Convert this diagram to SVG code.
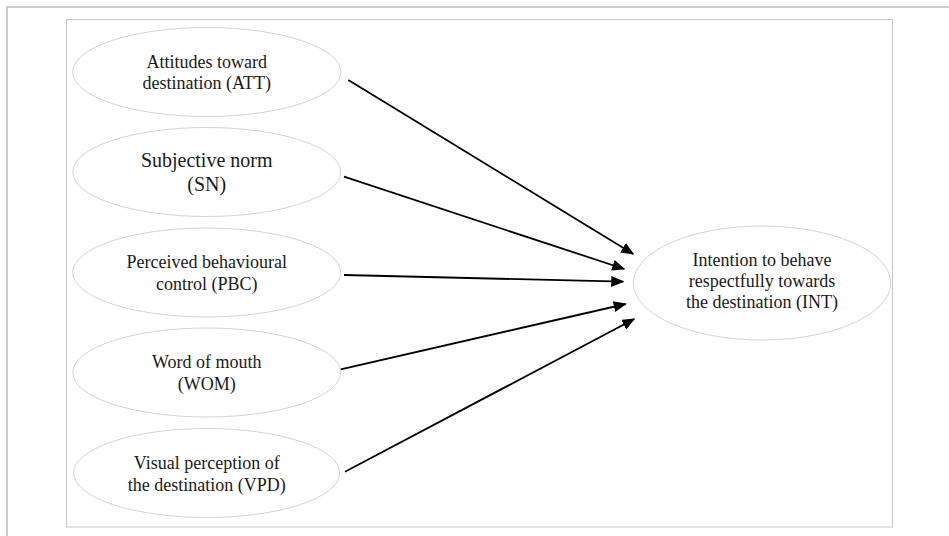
<svg xmlns="http://www.w3.org/2000/svg" width="949" height="536" viewBox="0 0 949 536">
<style>
.frame{fill:none;stroke:#b4b4b4;stroke-width:1.3}
.inner{fill:#fff;stroke:#c8c8c8;stroke-width:1}
.node ellipse{fill:#fff;stroke:#d4d4d4;stroke-width:1}
.node text{font-size:18px;fill:#1a1a1a;text-anchor:middle}
.conn line{stroke:#000;stroke-width:1.8;marker-end:url(#ah)}
</style>
<defs>
<marker id="ah" markerUnits="userSpaceOnUse" viewBox="0 0 13 11" refX="12" refY="5.5" markerWidth="13" markerHeight="11" orient="auto">
<path d="M0,0 L13,5.5 L0,11 Z" fill="#000"/>
</marker>
</defs>
<rect width="949" height="536" fill="#fff"/>
<rect class="frame" x="7" y="7" width="960" height="560"/>
<rect class="inner" x="66.5" y="19.5" width="826" height="507.5"/>
<g font-family="Liberation Serif, Times New Roman, DejaVu Serif, serif">
<g id="ATT" class="node">
<ellipse cx="206.7" cy="72" rx="134" ry="44.5"/>
<text x="206.7" y="68">Attitudes toward</text>
<text x="206.7" y="89">destination (ATT)</text>
</g>
<g id="SN" class="node">
<ellipse cx="206.7" cy="172" rx="134" ry="44.5"/>
<text x="206.7" y="167" style="font-size:20px">Subjective norm</text>
<text x="206.7" y="191" style="font-size:20px">(SN)</text>
</g>
<g id="PBC" class="node">
<ellipse cx="206.7" cy="272.5" rx="134" ry="44.5"/>
<text x="206.7" y="267.5">Perceived behavioural</text>
<text x="206.7" y="289.5">control (PBC)</text>
</g>
<g id="WOM" class="node">
<ellipse cx="206.7" cy="372.5" rx="134" ry="44.5"/>
<text x="206.7" y="367.5">Word of mouth</text>
<text x="206.7" y="389.5">(WOM)</text>
</g>
<g id="VPD" class="node">
<ellipse cx="206.7" cy="473" rx="133" ry="44.5"/>
<text x="206.7" y="469">Visual perception of</text>
<text x="206.7" y="490.5">the destination (VPD)</text>
</g>
<g id="INT" class="node">
<ellipse cx="762" cy="283" rx="128.7" ry="57"/>
<text x="762" y="265.5">Intention to behave</text>
<text x="762" y="286.5">respectfully towards</text>
<text x="762" y="307.5">the destination (INT)</text>
</g>
</g>
<g id="connectors" class="conn">
<line x1="348.3" y1="80" x2="633.3" y2="254"/>
<line x1="344" y1="176.7" x2="624.3" y2="269"/>
<line x1="344" y1="275" x2="623.3" y2="281.7"/>
<line x1="340.7" y1="369.3" x2="625.7" y2="304"/>
<line x1="345" y1="471.7" x2="634.3" y2="319"/>
</g>
</svg>
